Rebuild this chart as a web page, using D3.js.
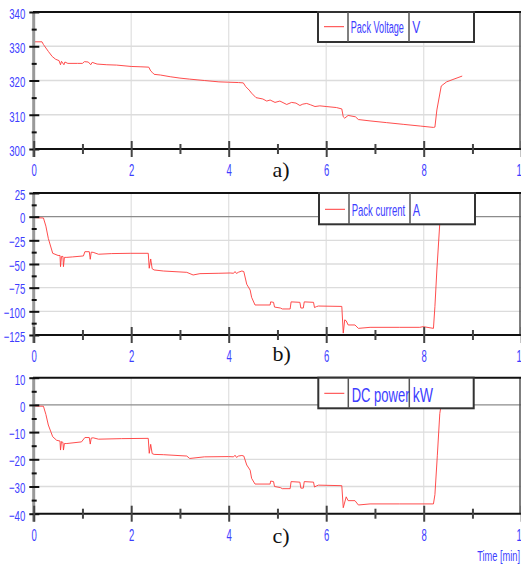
<!DOCTYPE html>
<html><head><meta charset="utf-8">
<script src="https://cdn.jsdelivr.net/npm/d3@7"></script>
<style>body{margin:0;background:#fff}svg{display:block}</style>
</head><body>
<svg id="chart" width="521" height="564"></svg>
<script>
// ---------------- data ----------------
const timeTicks = [0, 2, 4, 6, 8, 10];
const timeMinorTicks = [1, 3, 5, 7, 9];
const xAxisTitle = "Time [min]";

const voltageTime = [0,0.17,0.2,0.3,0.38,0.45,0.52,0.55,0.57,0.62,0.64,0.7,0.9,1.0,1.04,1.12,1.17,1.2,1.3,1.5,1.7,2.0,2.2,2.36,2.4,2.43,2.47,2.6,2.8,3.0,3.2,3.5,3.8,4.0,4.2,4.3,4.35,4.42,4.47,4.56,4.7,4.78,4.85,4.95,5.05,5.19,5.29,5.38,5.46,5.52,5.6,5.68,5.77,5.87,6.0,6.21,6.32,6.35,6.38,6.45,6.6,6.66,6.9,7.24,7.58,7.93,8.2,8.23,8.27,8.36,8.47,8.6,8.79];
const voltageValues = [331.3,331.3,330.5,328.5,327,326.2,325.8,324.6,325.6,324.6,325.4,325.0,325.0,325.0,325.5,325.4,324.6,325.3,324.8,324.6,324.5,324.1,324.0,323.9,322.8,322.4,321.8,321.6,321.1,320.7,320.4,320.0,319.6,319.5,319.4,319.3,318.2,317.2,316.3,315.0,314.6,314.0,314.3,313.6,314.0,313.0,313.6,313.4,312.7,313.1,313.3,312.9,312.4,312.6,312.4,312.1,311.7,309.4,309.0,309.8,309.4,308.6,308.2,307.7,307.2,306.7,306.3,306.4,311.4,318.4,319.6,320.3,321.3];

const currentTime = [0,0.2,0.25,0.3,0.39,0.5,0.54,0.55,0.57,0.6,0.61,0.63,0.68,0.8,1.02,1.05,1.14,1.16,1.18,1.22,1.33,1.6,1.98,2.35,2.37,2.4,2.43,2.47,2.66,3.14,3.27,3.41,3.8,4.03,4.1,4.13,4.16,4.2,4.27,4.31,4.37,4.44,4.47,4.54,4.85,4.86,4.92,4.94,5.06,5.1,5.26,5.28,5.46,5.48,5.53,5.55,5.74,5.76,5.8,5.84,6.32,6.35,6.38,6.41,6.45,6.59,6.66,6.9,7.5,7.92,7.99,8.2,8.23,8.27,8.33,8.36];
const currentValues = [-1,-1.4,-10,-23,-38.7,-41,-41,-52.8,-42,-42,-52.8,-43,-43,-42.5,-41.5,-37,-37,-45,-37.5,-37.7,-39.7,-39,-38.7,-38.7,-54.5,-44.7,-55,-56.3,-57.4,-58.8,-61.6,-60.2,-59.8,-59.5,-59.8,-58,-60,-58.7,-57.4,-58,-71.4,-77.5,-85.2,-93.3,-93.3,-90,-90.5,-95.5,-96.5,-97.5,-97.5,-90,-90.5,-96.5,-96.5,-90,-90.5,-96,-95,-94.4,-94.8,-123,-109,-110,-114.4,-114.4,-118,-116.9,-116.9,-116.9,-116.2,-118,-95,-56.3,-7,0.5];

const powerTime = [0,0.2,0.25,0.3,0.39,0.47,0.54,0.55,0.57,0.6,0.61,0.63,0.68,0.98,1.05,1.14,1.16,1.18,1.22,1.33,1.8,2.35,2.37,2.4,2.43,2.47,2.66,3.14,3.2,3.5,4.0,4.1,4.13,4.16,4.2,4.27,4.31,4.37,4.44,4.47,4.54,4.85,4.86,4.92,4.94,5.06,5.1,5.26,5.28,5.46,5.48,5.53,5.55,5.74,5.76,5.8,5.84,6.32,6.35,6.41,6.45,6.59,6.66,6.9,7.5,8.2,8.23,8.28,8.33,8.36];
const powerValues = [-0.4,-0.5,-3.5,-7.4,-11.7,-13,-13.3,-16.6,-13.5,-13.8,-16.6,-14.2,-14.2,-13.6,-12,-12,-14.4,-12.2,-12.1,-12.6,-12.4,-12.3,-17.8,-14.5,-17.9,-18.2,-18.3,-18.8,-19.7,-19.1,-19.0,-19.1,-18.5,-19.3,-18.8,-18.6,-18.8,-22.1,-24,-27,-29.1,-29.1,-28,-28.2,-30,-30.4,-30.8,-30.8,-28.2,-28.4,-30.6,-30.6,-28.2,-28.4,-30.2,-29.8,-29.5,-29.7,-37.8,-33.8,-35.2,-35.2,-36.8,-36.4,-36.4,-36.4,-33,-18.5,-3.2,0.3];

const voltageTicks = [340, 330, 320, 310, 300];
const voltageMinor = [335, 325, 315, 305];
const currentTicks = [25, 0, -25, -50, -75, -100, -125];
const currentMinor = [12.5, -12.5, -37.5, -62.5, -87.5, -112.5];
const powerTicks = [10, 0, -10, -20, -30, -40];
const powerMinor = [5, -5, -15, -25, -35];

const panelLabels = ["a)", "b)", "c)"];
const legendNames = ["Pack Voltage", "Pack current", "DC power"];
const legendUnits = ["V", "A", "kW"];

// ---------------- drawing ----------------
const svg = d3.select("#chart");
const BLUE = "#3d3dff";
const RED = "#ff3a3a";
const SANS = "'Liberation Sans', Arial, sans-serif";
const x = d3.scaleLinear().domain([0, 10]).range([33.7, 521.2]);

function squeeze(sel, f) {
  sel.each(function () {
    const w = this.getComputedTextLength();
    d3.select(this).attr("textLength", w * f).attr("lengthAdjust", "spacingAndGlyphs");
  });
}

const panels = [
  {top: 12, bottom: 149, domain: [300, 340], ticks: voltageTicks, minor: voltageMinor,
   t: voltageTime, v: voltageValues, zero: false,
   leg: {x0: 318, x1: 474, y0: 12, y1: 42, fs: 16, base: 33.3, ly: 26.7, tx: 350.7, ux: 412.3, nf: 0.57, uf: 0.75},
   labBase: 176.5},
  {top: 193, bottom: 335, domain: [-125, 25], ticks: currentTicks, minor: currentMinor,
   t: currentTime, v: currentValues, zero: true,
   leg: {x0: 319, x1: 475, y0: 193, y1: 224.3, fs: 17, base: 216, ly: 209.3, tx: 351.7, ux: 412.7, nf: 0.56, uf: 0.65},
   labBase: 361},
  {top: 377.7, bottom: 513.7, domain: [-40, 10], ticks: powerTicks, minor: powerMinor,
   t: powerTime, v: powerValues, zero: true,
   leg: {x0: 318.3, x1: 473.7, y0: 377.7, y1: 408.3, fs: 20, base: 401.7, ly: 393.3, tx: 351.7, ux: 412.7, nf: 0.65, uf: 0.7},
   labBase: 543}
];

panels.forEach((p, i) => {
  const y = d3.scaleLinear().domain(p.domain).range([p.bottom, p.top]);
  const g = svg.append("g");

  // vertical grid
  g.selectAll(".vg").data(timeTicks.filter(d => d > 0 && d < 10)).join("line")
    .attr("x1", d => x(d)).attr("x2", d => x(d))
    .attr("y1", p.top).attr("y2", p.bottom)
    .attr("stroke", "#e2e2e2").attr("stroke-width", 1.3);
  // horizontal grid
  g.selectAll(".hg").data(p.ticks.filter(d => d > p.domain[0] && d < p.domain[1])).join("line")
    .attr("x1", x(0)).attr("x2", 521)
    .attr("y1", d => y(d)).attr("y2", d => y(d))
    .attr("stroke", d => d === 0 ? "#8c8c8c" : "#dcdcdc")
    .attr("stroke-width", d => d === 0 ? 1.3 : 1.3);

  // right border
  g.append("line").attr("x1", 520).attr("x2", 520).attr("y1", p.top).attr("y2", p.bottom)
    .attr("stroke", "#555").attr("stroke-width", 1.5);

  // data line
  const pts = p.t.map((t, k) => [t, p.v[k]]);
  g.append("path").datum(pts)
    .attr("d", d3.line().x(d => x(d[0])).y(d => y(d[1])))
    .attr("fill", "none").attr("stroke", RED).attr("stroke-width", 1).attr("opacity", 0.9);

  // top border & bottom axis lines
  g.append("line").attr("x1", 33).attr("x2", 521).attr("y1", p.top).attr("y2", p.top)
    .attr("stroke", "#111").attr("stroke-width", 2);
  g.append("line").attr("x1", 33).attr("x2", 521).attr("y1", p.bottom).attr("y2", p.bottom)
    .attr("stroke", "#111").attr("stroke-width", 2);

  // left gray axis
  g.append("line").attr("x1", x(0)).attr("x2", x(0)).attr("y1", p.top).attr("y2", p.bottom + 8)
    .attr("stroke", "#999").attr("stroke-width", 3);

  // left major ticks + labels
  const ax = g.append("g").attr("transform", "translate(39.3,0)")
    .call(d3.axisLeft(y).tickValues(p.ticks).tickSize(10).tickPadding(4).tickFormat(d3.format("d")));
  ax.select(".domain").remove();
  ax.selectAll(".tick line").attr("stroke", "#111").attr("stroke-width", 2);
  ax.selectAll(".tick text").attr("fill", BLUE).attr("font-family", SANS)
    .attr("font-size", 15).attr("dy", "0.42em").call(squeeze, 0.64);
  // left minor ticks
  const axm = g.append("g").attr("transform", "translate(36.7,0)")
    .call(d3.axisLeft(y).tickValues(p.minor).tickSize(5).tickFormat(""));
  axm.select(".domain").remove();
  axm.selectAll(".tick line").attr("stroke", "#111").attr("stroke-width", 2);

  // bottom major ticks + labels
  const bx = g.append("g").attr("transform", `translate(0,${p.bottom - 8})`)
    .call(d3.axisBottom(x).tickValues(timeTicks).tickSize(16).tickFormat(d3.format("d")));
  bx.select(".domain").remove();
  bx.selectAll(".tick line").attr("stroke", "#444").attr("stroke-width", 2);
  bx.selectAll(".tick text").attr("fill", BLUE).attr("font-family", SANS)
    .attr("font-size", 17).attr("y", 35).attr("dy", 0).call(squeeze, 0.56);
  // bottom minor ticks
  const bxm = g.append("g").attr("transform", `translate(0,${p.bottom - 5})`)
    .call(d3.axisBottom(x).tickValues(timeMinorTicks).tickSize(10).tickFormat(""));
  bxm.select(".domain").remove();
  bxm.selectAll(".tick line").attr("stroke", "#444").attr("stroke-width", 2);

  // legend
  const L = p.leg;
  const lg = g.append("g");
  lg.append("rect").attr("x", L.x0).attr("y", L.y0).attr("width", L.x1 - L.x0).attr("height", L.y1 - L.y0)
    .attr("fill", "#fff").attr("stroke", "#333").attr("stroke-width", 2);
  [L.x0 + 30, L.x0 + 91].forEach(xx => {
    lg.append("line").attr("x1", xx).attr("x2", xx).attr("y1", L.y0).attr("y2", L.y1)
      .attr("stroke", "#555").attr("stroke-width", 1.5);
  });
  lg.append("line").attr("x1", L.x0 + 6).attr("x2", L.x0 + 26).attr("y1", L.ly).attr("y2", L.ly)
    .attr("stroke", RED).attr("stroke-width", 1);
  lg.append("text").attr("x", L.tx).attr("y", L.base).text(legendNames[i])
    .attr("fill", BLUE).attr("font-family", SANS).attr("font-size", L.fs).call(squeeze, L.nf);
  lg.append("text").attr("x", L.ux).attr("y", L.base).text(legendUnits[i])
    .attr("fill", BLUE).attr("font-family", SANS).attr("font-size", L.fs).call(squeeze, L.uf);

  // panel label
  svg.append("text").attr("x", 272.5).attr("y", p.labBase).text(panelLabels[i])
    .attr("font-family", "'Liberation Serif', 'Times New Roman', serif").attr("font-size", 22).attr("fill", "#111");
});

svg.append("text").attr("x", 520).attr("y", 560.5).attr("text-anchor", "end").text(xAxisTitle)
  .attr("fill", BLUE).attr("font-family", SANS).attr("font-size", 14).call(squeeze, 0.66);
</script>
</body></html>
